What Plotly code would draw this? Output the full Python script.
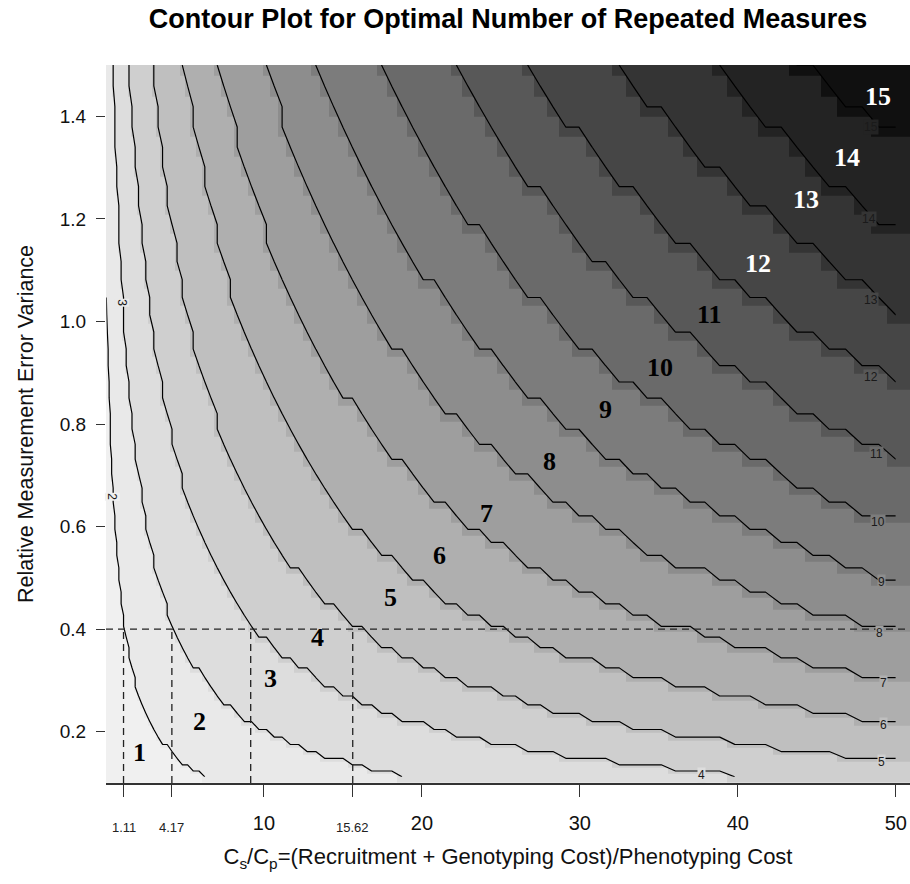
import numpy as np
import plotly.graph_objects as go

# ---- contour lines of the optimal number of repeated measures ----
levels = [2, 3, 4, 5, 6, 7, 8, 9, 10, 11, 12, 13, 14, 15]
# point where each line enters the panel (left edge for level 2, top edge otherwise)
start_c = [0.00, 0.38, 1.33, 2.78, 4.81, 7.03, 9.94, 13.2, 17.2, 21.6, 26.2, 32.1, 38.2, 43.1]
start_v = [1.07, 1.50, 1.50, 1.50, 1.50, 1.50, 1.50, 1.50, 1.50, 1.50, 1.50, 1.50, 1.50, 1.50]
# crossing of each line with the reference variance 0.4 (nan where not used)
mid_c = [1.11, 4.17, 9.16, 15.62, 24.3, 35.5] + [np.nan] * 8
# far end of each line (bottom edge for 2-4, right edge for 5-15)
end_c = [5.90, 18.5, 37.7, 49.1, 49.2, 49.2, 49.0, 49.1, 48.9, 48.8, 48.4, 48.4, 48.3, 48.4]
end_v = [0.113, 0.112, 0.116, 0.141, 0.213, 0.295, 0.392, 0.492, 0.609, 0.741, 0.892, 1.042, 1.200, 1.379]

# variance at which the labels of the two near-vertical lines sit
left_label_levels = [2, 3]
left_label_v = [0.658, 1.036]

# reference design: variance 0.4 and the cost ratios where r switches
guide_v = 0.4
guide_c = [1.11, 4.17, 9.16, 15.62]

regions = list(range(1, 16))
x_major_ticks = [10, 20, 30, 40, 50]
x_minor_ticks = [1.11, 4.17, 15.62]
y_ticks = [0.2, 0.4, 0.6, 0.8, 1.0, 1.2, 1.4]

# ---- styling ----
region_gray = [240, 233, 221, 207, 191, 175, 158, 141, 124, 106, 88, 70, 52, 35, 16]
region_label_c = [2.1, 5.9, 10.4, 13.4, 18.0, 21.1, 24.1, 28.1, 31.6, 35.1, 38.2, 41.3, 44.3, 46.9, 48.9]
region_label_v = [0.160, 0.219, 0.303, 0.384, 0.462, 0.544, 0.626, 0.726, 0.829, 0.911, 1.014, 1.112, 1.237, 1.319, 1.438]
SANS = "Liberation Sans, Arial, sans-serif"
SERIF = "Liberation Serif, Times New Roman, serif"


def line_points(i):
    """(1/v, c) knots of contour line i, sorted by 1/v."""
    pts = [(1.0 / start_v[i], start_c[i]), (1.0 / end_v[i], end_c[i])]
    if not np.isnan(mid_c[i]):
        pts.append((1.0 / guide_v, mid_c[i]))
    pts.sort()
    return np.array(pts)


def boundary_c(i, v):
    """Cost ratio of line i at variance v: piecewise linear in 1/v, extended at both ends."""
    pts = line_points(i)
    u = 1.0 / np.asarray(v, dtype=float)
    out = np.interp(u, pts[:, 0], pts[:, 1])
    lo = u < pts[0, 0]
    hi = u > pts[-1, 0]
    s0 = (pts[1, 1] - pts[0, 1]) / (pts[1, 0] - pts[0, 0])
    s1 = (pts[-1, 1] - pts[-2, 1]) / (pts[-1, 0] - pts[-2, 0])
    out = np.where(lo, pts[0, 1] + s0 * (u - pts[0, 0]), out)
    out = np.where(hi, pts[-1, 1] + s1 * (u - pts[-1, 0]), out)
    return out


# evaluation grid (finer towards small values, as in the original raster)
xs = np.linspace(np.sqrt(0.02), np.sqrt(50.0), 92) ** 2
ys = np.linspace(np.sqrt(0.112), np.sqrt(1.5), 54) ** 2

Z = np.ones((len(ys), len(xs)))
for i in range(len(levels)):
    bc = boundary_c(i, ys)
    Z += (xs[None, :] > bc[:, None]).astype(float)

# heatmap cell edges: midpoints of the grid, outer cells widened to the panel edges
x_edges = np.concatenate([[0.0], (xs[:-1] + xs[1:]) / 2, [51.0]])
y_edges = np.concatenate([[0.1], (ys[:-1] + ys[1:]) / 2, [1.52]])


def gray(g):
    return f"rgb({g},{g},{g})"


n = len(regions)
colorscale = []
for k, g in zip(regions, region_gray):
    colorscale.append([(k - 1) / n, gray(g)])
    colorscale.append([k / n, gray(g)])

fig = go.Figure()
fig.add_trace(go.Heatmap(
    x=x_edges, y=y_edges, z=Z, zmin=0.5, zmax=15.5,
    colorscale=colorscale, showscale=False, hoverinfo="skip",
))
fig.add_trace(go.Contour(
    x=xs, y=ys, z=Z,
    contours=dict(start=levels[0] - 0.01, end=levels[-1] - 0.01, size=1,
                  coloring="none", showlabels=False),
    line=dict(color="black", width=1.2, smoothing=0),
    showscale=False, hoverinfo="skip",
))

# dashed guides at the reference design
dash_style = dict(color="#222222", width=1.3, dash="7px,5px")
fig.add_trace(go.Scatter(x=[0, 51], y=[guide_v, guide_v], mode="lines",
                         line=dash_style, hoverinfo="skip", showlegend=False))
for c in guide_c:
    fig.add_trace(go.Scatter(x=[c, c], y=[0.1, guide_v], mode="lines",
                             line=dash_style, hoverinfo="skip", showlegend=False))

annotations = []
# region numbers
for k, c, v in zip(regions, region_label_c, region_label_v):
    annotations.append(dict(
        x=c, y=v, xref="x", yref="y", text=f"<b>{k}</b>", showarrow=False,
        font=dict(family=SERIF, size=26, color="white" if k >= 12 else "black"),
    ))
# contour-line labels at the line ends
for lev, c, v in zip(levels, end_c, end_v):
    if lev < 4:
        continue
    annotations.append(dict(
        x=c, y=v, xref="x", yref="y", text=str(lev), showarrow=False,
        font=dict(family=SANS, size=12, color="#1a1a1a"),
        bgcolor=gray(region_gray[lev - 2]), borderpad=0,
    ))
for lev, v in zip(left_label_levels, left_label_v):
    c = float(boundary_c(levels.index(lev), v))
    annotations.append(dict(
        x=c, y=v, xref="x", yref="y", text=str(lev), showarrow=False, textangle=90,
        font=dict(family=SANS, size=12, color="#1a1a1a"),
        bgcolor=gray(region_gray[lev - 2]), borderpad=0,
    ))
# smaller labels for the switching cost ratios on the x axis
for c in x_minor_ticks:
    annotations.append(dict(
        x=c, y=-44 / 718, xref="x", yref="paper", text=f"{c:.2f}", showarrow=False,
        yanchor="middle", font=dict(family=SANS, size=13, color="#222222"),
    ))

x_tickvals = sorted(x_major_ticks + x_minor_ticks)
x_ticktext = [str(t) if t in x_major_ticks else "" for t in x_tickvals]

fig.update_layout(
    width=910, height=884,
    margin=dict(l=106, r=0, t=65, b=101),
    paper_bgcolor="white", plot_bgcolor="white",
    font=dict(family=SANS, color="#111111"),
    title=dict(text="<b>Contour Plot for Optimal Number of Repeated Measures</b>",
               x=0.5, xref="paper", y=1 - 19 / 884, yref="container",
               xanchor="center", yanchor="middle",
               font=dict(family=SANS, size=27, color="black")),
    xaxis=dict(range=[0, 50.9], tickvals=x_tickvals, ticktext=x_ticktext,
               ticks="outside", ticklen=12, tickcolor="#333333", tickwidth=1.2,
               ticklabelstandoff=9,
               showline=True, linecolor="#333333", linewidth=1.8,
               showgrid=False, zeroline=False, tickfont=dict(size=20),
               title=dict(text="C<sub>s</sub>/C<sub>p</sub>=(Recruitment + Genotyping Cost)/Phenotyping Cost",
                          font=dict(size=22), standoff=16)),
    yaxis=dict(range=[0.1, 1.5], tickvals=y_ticks,
               ticktext=[f"{t:.1f}" for t in y_ticks],
               ticks="outside", ticklen=9, tickcolor="#333333", tickwidth=1.2,
               ticklabelstandoff=6,
               showline=False, showgrid=False, zeroline=False, tickfont=dict(size=19),
               title=dict(text="Relative Measurement Error Variance",
                          font=dict(size=21.5), standoff=20)),
    annotations=annotations,
    showlegend=False,
)

fig.write_html("out.html")
